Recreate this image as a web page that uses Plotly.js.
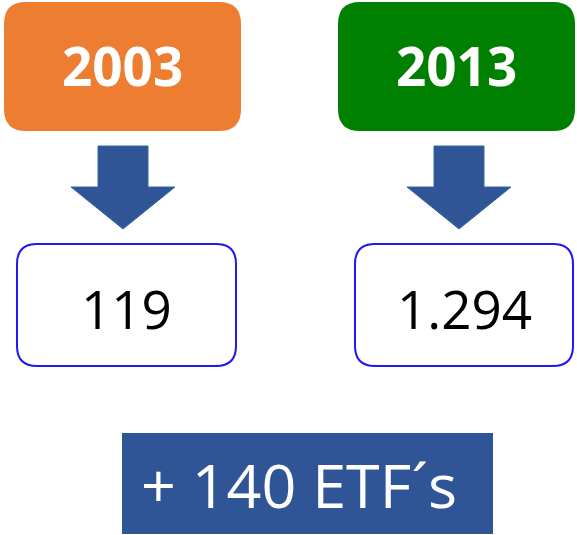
<!DOCTYPE html>
<html>
<head>
<meta charset="utf-8">
<script src="https://cdn.plot.ly/plotly-3.0.1.min.js"></script>
<style>html,body{margin:0;padding:0;background:#fff;}#chart{width:577px;height:535px;}</style>
</head>
<body>
<div id="chart"></div>
<script>
// Data
const years = ["2003", "2013"];
const etfCounts = ["119", "1.294"];
const changeLabel = "+ 140 ETF´s";
const headerColors = ["#ED7D31", "#008000"];

// Layout geometry (pixel-like data coordinates)
const cols = [
  {hx0: 4, hx1: 241, ax: 123, bx0: 17, bx1: 236},
  {hx0: 338, hx1: 575, ax: 459, bx0: 355, bx1: 573}
];

function rr(x0, y0, x1, y1, r) {
  return `M${x0 + r},${y0} L${x1 - r},${y0} Q${x1},${y0} ${x1},${y0 + r} L${x1},${y1 - r} Q${x1},${y1} ${x1 - r},${y1} L${x0 + r},${y1} Q${x0},${y1} ${x0},${y1 - r} L${x0},${y0 + r} Q${x0},${y0} ${x0 + r},${y0} Z`;
}
function arrow(cx) {
  const sw = 25, hw = 52, top = 146, neck = 187, tip = 229;
  return `M${cx - sw},${top} L${cx + sw},${top} L${cx + sw},${neck} L${cx + hw},${neck} L${cx},${tip} L${cx - hw},${neck} L${cx - sw},${neck} Z`;
}

const shapes = [];
const annotations = [];
years.forEach((yr, i) => {
  const c = cols[i];
  shapes.push({type: 'path', xref: 'x', yref: 'y', path: rr(c.hx0, 2, c.hx1, 131, 22),
    fillcolor: headerColors[i], line: {width: 0}});
  shapes.push({type: 'path', xref: 'x', yref: 'y', path: arrow(c.ax),
    fillcolor: '#2F5597', line: {color: '#3A64A8', width: 1}});
  shapes.push({type: 'path', xref: 'x', yref: 'y', path: rr(c.bx0, 244, c.bx1, 366, 20),
    fillcolor: '#FFFFFF', line: {color: '#1C1CF2', width: 2}});
  annotations.push({x: (c.hx0 + c.hx1) / 2, y: 65, xref: 'x', yref: 'y', text: '<b>' + yr + '</b>',
    showarrow: false, font: {family: 'Open Sans', size: 53, color: '#FFFFFF'}, xanchor: 'center', yanchor: 'middle'});
  annotations.push({x: (c.bx0 + c.bx1) / 2, y: 308, xref: 'x', yref: 'y', text: etfCounts[i],
    showarrow: false, font: {family: 'Open Sans', size: 53, color: '#000000'}, xanchor: 'center', yanchor: 'middle'});
});
shapes.push({type: 'rect', xref: 'x', yref: 'y', x0: 122, x1: 493, y0: 433, y1: 534,
  fillcolor: '#2F5597', line: {width: 0}});
annotations.push({x: 299, y: 484, xref: 'x', yref: 'y', text: changeLabel, showarrow: false,
  font: {family: 'Open Sans', size: 61, color: '#FFFFFF'}, xanchor: 'center', yanchor: 'middle'});

const layout = {
  width: 577, height: 535,
  margin: {l: 0, r: 0, t: 0, b: 0, pad: 0},
  paper_bgcolor: '#FFFFFF', plot_bgcolor: '#FFFFFF',
  xaxis: {range: [0, 577], visible: false, fixedrange: true},
  yaxis: {range: [535, 0], visible: false, fixedrange: true},
  showlegend: false,
  shapes: shapes,
  annotations: annotations
};
Plotly.newPlot('chart', [], layout, {staticPlot: true, displayModeBar: false});
</script>
</body>
</html>
